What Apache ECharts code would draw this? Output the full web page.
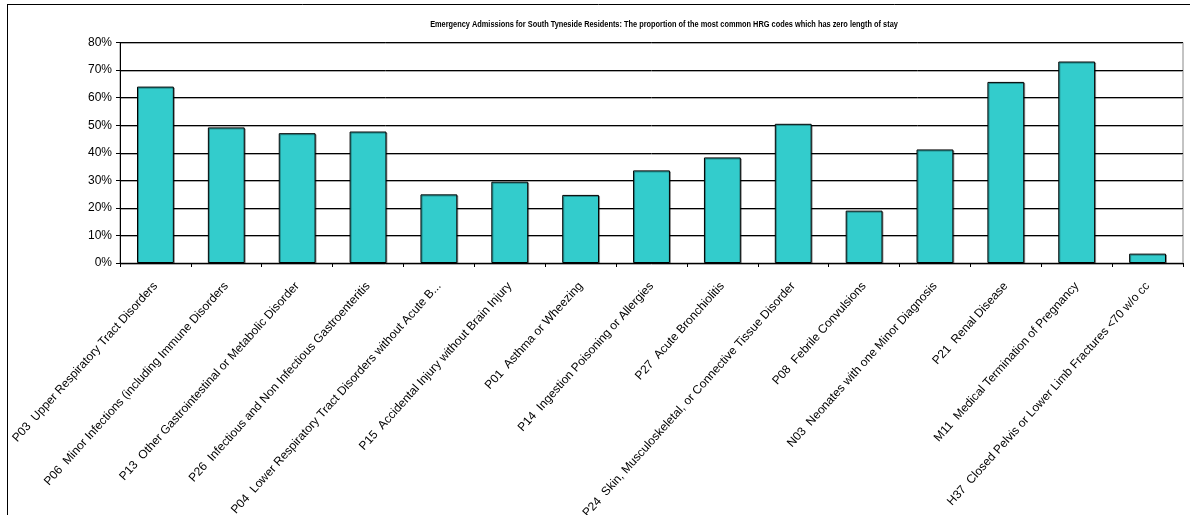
<!DOCTYPE html>
<html><head><meta charset="utf-8">
<script src="https://cdn.jsdelivr.net/npm/echarts@6/dist/echarts.min.js"></script>
<style>html,body{margin:0;padding:0;background:#fff}#c{width:1190px;height:515px}</style>
</head><body><div id="c"></div>
<script>
const titleText = 'Emergency Admissions for South Tyneside Residents: The proportion of the most common HRG codes which has zero length of stay';
const categories = [
  'P03  Upper Respiratory Tract Disorders',
  'P06  Minor Infections (including Immune Disorders',
  'P13  Other Gastrointestinal or Metabolic Disorder',
  'P26  Infectious and Non Infectious Gastroenteritis',
  'P04  Lower Respiratory Tract Disorders without Acute B...',
  'P15  Accidental Injury without Brain Injury',
  'P01  Asthma or Wheezing',
  'P14  Ingestion Poisoning or Allergies',
  'P27  Acute Bronchiolitis',
  'P24  Skin, Musculoskeletal, or Connective Tissue Disorder',
  'P08  Febrile Convulsions',
  'N03  Neonates with one Minor Diagnosis',
  'P21  Renal Disease',
  'M11  Medical Termination of Pregnancy',
  'H37  Closed Pelvis or Lower Limb Fractures <70 w/o cc'
];
const values = [0.640, 0.492, 0.471, 0.477, 0.249, 0.295, 0.247, 0.336, 0.383, 0.505, 0.190, 0.412, 0.657, 0.731, 0.034];
const yTicks = { min: 0, max: 0.8, interval: 0.1 };

const chart = echarts.init(document.getElementById('c'));
chart.setOption({
  animation: false,
  grid: { left: 120, right: 7, top: 42.5, bottom: 252, outerBoundsMode: 'none', containLabel: false,
    show: true, borderColor: '#888', borderWidth: 1, backgroundColor: 'transparent' },
  xAxis: {
    type: 'category', data: categories,
    axisLine: { lineStyle: { color: '#000', width: 1 } },
    axisTick: { show: true, alignWithLabel: false, length: 4, lineStyle: { color: '#000' } },
    axisLabel: { rotate: 48, interval: 0, margin: 21, fontSize: 12, fontFamily: 'Liberation Sans, Arial', color: '#000' },
    splitLine: { show: false }
  },
  yAxis: {
    type: 'value', min: yTicks.min, max: yTicks.max, interval: yTicks.interval,
    axisLine: { show: true, lineStyle: { color: '#000', width: 1 } },
    axisTick: { show: true, length: 4, lineStyle: { color: '#000' } },
    axisLabel: { margin: 8, fontSize: 12, fontFamily: 'Liberation Sans, Arial', color: '#000',
      formatter: v => Math.round(v * 100) + '%' },
    splitLine: { show: true, lineStyle: { color: '#000', width: 1, shadowColor: '#aaa', shadowOffsetY: 1, shadowBlur: 0 } }
  },
  series: [{
    type: 'bar', data: values, barCategoryGap: '48%',
    itemStyle: { color: '#33CCCC', borderColor: '#000', borderWidth: 1, shadowColor: 'rgba(0,0,0,0.35)', shadowOffsetX: 1, shadowOffsetY: 1, shadowBlur: 0 }
  }],
  graphic: [
    { type: 'line', shape: { x1: 7.5, y1: 4.5, x2: 7.5, y2: 515 }, style: { stroke: '#000', lineWidth: 1 } },
    { type: 'line', shape: { x1: 7, y1: 4.5, x2: 1190, y2: 4.5 }, style: { stroke: '#000', lineWidth: 1 } },
    { type: 'text', x: 664, y: 25, scaleX: 0.82, style: {
        text: titleText, textAlign: 'center', textVerticalAlign: 'middle', fill: '#000',
        font: 'bold 9px "Liberation Sans", Arial' } }
  ]
});
</script></body></html>
